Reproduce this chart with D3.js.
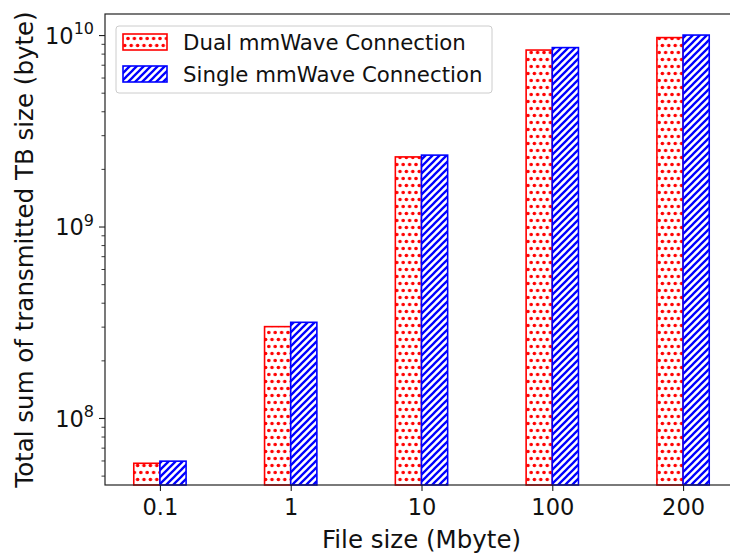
<!DOCTYPE html>
<html>
<head>
<meta charset="utf-8">
<script src="https://cdn.jsdelivr.net/npm/d3@7"></script>
<style>
  body { margin:0; background:#fff; }
  svg text { font-family:"DejaVu Sans", sans-serif; fill:#111; }
</style>
</head>
<body>
<svg id="chart" width="730" height="556"></svg>
<script>
// data
const fileSizes   = ['0.1','1','10','100','200'];
const dualValues  = [5.8e7, 3.0e8, 2.31e9, 8.35e9, 9.7e9];
const singleValues= [5.95e7, 3.16e8, 2.36e9, 8.6e9, 1.0e10];
const seriesNames = ['Dual mmWave Connection','Single mmWave Connection'];
const majorTicks  = [1e8, 1e9, 1e10];

const svg=d3.select('#chart');
const padL=105, padT=14, padB=485, padR=738;
const barw=0.2;
const tickFont='22.5px', labelFont='24.5px', legendFont='21.3px';

const x=d3.scaleLinear().domain([-0.42, fileSizes.length-1+0.42]).range([padL,padR]);
const y=d3.scaleLog().domain([Math.pow(10,7.65), Math.pow(10,10.11)]).range([padB,padT]);

// hatch patterns
const defs=svg.append('defs');
let dots=defs.append('pattern').attr('id','dots').attr('patternUnits','userSpaceOnUse')
    .attr('width',6.4).attr('height',14);
dots.append('rect').attr('width',6.4).attr('height',14).attr('fill','#fff');
[[3.2,3.5],[0,10.5],[6.4,10.5]].forEach(p =>
    dots.append('circle').attr('cx',p[0]).attr('cy',p[1]).attr('r',1.8).attr('fill','#ff0000'));
let stripes=defs.append('pattern').attr('id','stripes').attr('patternUnits','userSpaceOnUse')
    .attr('width',7).attr('height',7);
stripes.append('rect').attr('width',7).attr('height',7).attr('fill','#fff');
stripes.append('path').attr('d','M-1,8 L8,-1 M-4.5,4.5 L4.5,-4.5 M2.5,11.5 L11.5,2.5')
    .attr('stroke','#0000ff').attr('stroke-width',2.3);

const series=[
  {name:seriesNames[0], values:dualValues,   offset:-barw, fill:'url(#dots)',    stroke:'#ff0000'},
  {name:seriesNames[1], values:singleValues, offset:0,     fill:'url(#stripes)', stroke:'#0000ff'}
];

const plot=svg.append('g');
series.forEach(s => {
  plot.selectAll(null).data(s.values).join('rect')
      .attr('x',(d,i)=>x(i+s.offset))
      .attr('width',x(barw)-x(0))
      .attr('y',d=>y(d))
      .attr('height',d=>padB-y(d))
      .attr('fill',s.fill)
      .attr('stroke',s.stroke)
      .attr('stroke-width',1.6);
});

// y axis: major + minor ticks
const minor=[];
for (let e=7; e<=10; e++) for (let m=2; m<=9; m++) {
  let v=m*Math.pow(10,e);
  if (v>=y.domain()[0] && v<=y.domain()[1]) minor.push(v);
}
svg.append('g').attr('transform','translate('+padL+',0)')
   .call(d3.axisLeft(y).tickValues(minor).tickSize(3.5).tickFormat(''))
   .call(g=>g.select('.domain').remove())
   .call(g=>g.selectAll('line').attr('stroke','#222').attr('stroke-width',0.9));

let ya=svg.append('g').attr('transform','translate('+padL+',0)')
   .call(d3.axisLeft(y).tickValues(majorTicks).tickSize(6).tickPadding(10).tickFormat(''));
ya.select('.domain').remove();
ya.selectAll('line').attr('stroke','#222').attr('stroke-width',1.1);
ya.selectAll('.tick').each(function(d) {
   let t=d3.select(this).append('text')
      .attr('x',-11).attr('dy','0.36em').attr('text-anchor','end')
      .style('font-size',tickFont);
   t.append('tspan').text('10');
   t.append('tspan').attr('dy','-0.6em').style('font-size','16px').text(Math.round(Math.log10(d)));
});

// x axis
let xa=svg.append('g').attr('transform','translate(0,'+padB+')')
   .call(d3.axisBottom(x).tickValues(d3.range(fileSizes.length)).tickSize(6).tickPadding(8)
         .tickFormat((d,i)=>fileSizes[i]));
xa.select('.domain').remove();
xa.selectAll('line').attr('stroke','#222').attr('stroke-width',1.1);
xa.selectAll('text').style('font-size',tickFont).attr('fill','#111');

// frame
svg.append('rect').attr('x',padL).attr('y',padT).attr('width',padR-padL).attr('height',padB-padT)
   .attr('fill','none').attr('stroke','#222').attr('stroke-width',1.2);

// axis titles
svg.append('text').attr('x',(padL+padR)/2).attr('y',548).attr('text-anchor','middle')
   .style('font-size',labelFont).text('File size (Mbyte)');
svg.append('text').attr('transform','translate(33,'+((padT+padB)/2)+') rotate(-90)')
   .attr('text-anchor','middle').style('font-size',labelFont)
   .text('Total sum of transmitted TB size (byte)');

// legend
let lg=svg.append('g');
lg.append('rect').attr('x',116).attr('y',26).attr('width',376).attr('height',67).attr('rx',3)
  .attr('fill','#fff').attr('fill-opacity',0.85).attr('stroke','#ccc');
series.forEach((s,i) => {
  lg.append('rect').attr('x',123).attr('y',34+i*32).attr('width',44).attr('height',16)
    .attr('fill',s.fill).attr('stroke',s.stroke).attr('stroke-width',1.6);
  lg.append('text').attr('x',183).attr('y',50+i*31.5).style('font-size',legendFont).text(s.name);
});
</script>
</body>
</html>
